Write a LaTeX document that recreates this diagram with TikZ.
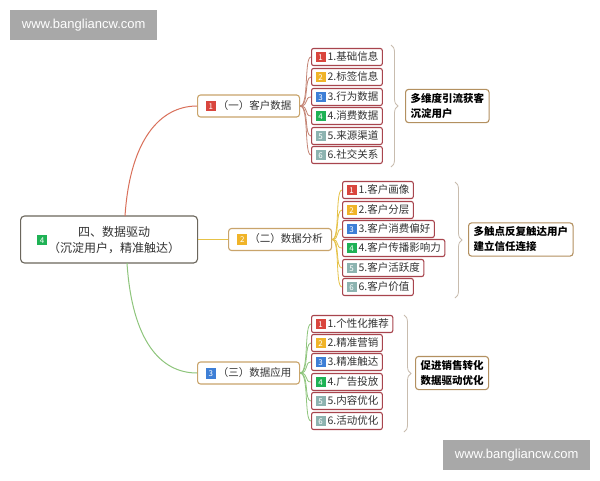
\documentclass[tikz,border=0pt]{standalone}
\usepackage{fontspec}
\setmainfont{Noto Sans CJK SC}
\newfontfamily\latinsans{Liberation Sans}
\usetikzlibrary{decorations.pathreplacing}
\definecolor{bdred}{HTML}{D9463E}
\definecolor{bdyel}{HTML}{F0B429}
\definecolor{bdblu}{HTML}{3E7FD6}
\definecolor{bdgrn}{HTML}{1FB255}
\definecolor{bdgry}{HTML}{8DB3B0}
\definecolor{leafc}{HTML}{A8454E}
\definecolor{brc}{HTML}{C9A46B}
\definecolor{sumc}{HTML}{B39060}
\definecolor{rootc}{HTML}{6B665C}
\definecolor{txtc}{HTML}{333333}
\definecolor{lnred}{HTML}{D9705A}
\definecolor{fanred}{HTML}{C48474}
\definecolor{lnyel}{HTML}{E6C247}
\definecolor{lngrn}{HTML}{8EC57C}
\definecolor{bracec}{HTML}{C8BCAE}
\definecolor{bannerc}{HTML}{A8A8A8}
\newcommand{\bdg}[2]{{\setlength{\fboxsep}{0pt}\colorbox{#1}{\rule[-2pt]{0pt}{10.5pt}\makebox[10pt][c]{\color{white}\fontsize{8}{8}\selectfont #2}}}\hspace{2pt}}
\begin{document}
\begin{tikzpicture}[x=1pt,y=-1pt,
  leaf/.style={draw=leafc, line width=1.1pt, rounded corners=2pt, fill=white, inner xsep=4pt, inner ysep=0pt, minimum height=17pt, anchor=west, text=txtc, font=\fontsize{10.5}{12}\selectfont},
  brnode/.style={draw=brc, line width=1.1pt, rounded corners=3pt, fill=white, minimum height=22pt, inner xsep=4pt, inner ysep=0pt, text=txtc, font=\fontsize{10.5}{12}\selectfont},
  sumnode/.style={draw=sumc, line width=1.1pt, rounded corners=3pt, fill=white, inner xsep=5pt, inner ysep=4pt, anchor=west, align=left, text=black, font=\bfseries\fontsize{10.5}{15}\selectfont},
  fan/.style={line width=0.8pt},
  bracedeco/.style={draw=bracec, line width=0.8pt, decorate, decoration={brace, amplitude=7pt}},
  banner/.style={fill=bannerc, text=white, minimum width=147pt, minimum height=30pt, inner sep=0pt, font=\latinsans\fontsize{13}{13}\selectfont}
]
\useasboundingbox (0,0) rectangle (600,480);
\fill[white] (0,0) rectangle (600,480);
% banners
\node[banner, anchor=north west] (ban1) at (10,10) {www.bangliancw.com};
\node[banner, anchor=north west] (ban2) at (443,440) {www.bangliancw.com};
% root
\node[draw=rootc, line width=1.1pt, rounded corners=4pt, fill=white, minimum width=177pt, minimum height=47pt, anchor=west] (root) at (20,239.5) {};
\node[inner sep=0pt] (rootbadge) at (42,240) {\bdg{bdgrn}{4}};
\node[align=center, inner sep=0pt, text=txtc, font=\fontsize{12}{16}\selectfont] (roottext) at (114,240) {四、数据驱动\\（沉淀用户，精准触达）};
% branches
\node[brnode, minimum width=102pt, anchor=west] (b1) at (197,106) {\bdg{bdred}{1}（一）客户数据};
\node[brnode, minimum width=103pt, anchor=west] (b2) at (228,239.5) {\bdg{bdyel}{2}（二）数据分析};
\node[brnode, minimum width=102pt, anchor=west] (b3) at (197,373) {\bdg{bdblu}{3}（三）数据应用};
% root connectors
\coordinate (rtop) at (125,216);
\coordinate (rbot) at (127,263);
\draw[lnred, line width=1pt] (rtop) .. controls (130,140) and (160,106) .. (b1.west);
\draw[lngrn, line width=1pt] (rbot) .. controls (132,340) and (160,373) .. (b3.west);
\draw[lnyel, line width=1pt] (root.east) -- (b2.west);
% leaves branch 1
\node[leaf] (l11) at (311,57) {\bdg{bdred}{1}1.基础信息};
\node[leaf] (l12) at (311,77) {\bdg{bdyel}{2}2.标签信息};
\node[leaf] (l13) at (311,97) {\bdg{bdblu}{3}3.行为数据};
\node[leaf] (l14) at (311,116) {\bdg{bdgrn}{4}4.消费数据};
\node[leaf] (l15) at (311,136) {\bdg{bdgry}{5}5.来源渠道};
\node[leaf] (l16) at (311,155) {\bdg{bdgry}{6}6.社交关系};
% leaves branch 2
\node[leaf] (l21) at (342,190) {\bdg{bdred}{1}1.客户画像};
\node[leaf] (l22) at (342,210) {\bdg{bdyel}{2}2.客户分层};
\node[leaf] (l23) at (342,229) {\bdg{bdblu}{3}3.客户消费偏好};
\node[leaf] (l24) at (342,248) {\bdg{bdgrn}{4}4.客户传播影响力};
\node[leaf] (l25) at (342,268) {\bdg{bdgry}{5}5.客户活跃度};
\node[leaf] (l26) at (342,287) {\bdg{bdgry}{6}6.客户价值};
% leaves branch 3
\node[leaf] (l31) at (311,324) {\bdg{bdred}{1}1.个性化推荐};
\node[leaf] (l32) at (311,343) {\bdg{bdyel}{2}2.精准营销};
\node[leaf] (l33) at (311,362) {\bdg{bdblu}{3}3.精准触达};
\node[leaf] (l34) at (311,382) {\bdg{bdgrn}{4}4.广告投放};
\node[leaf] (l35) at (311,401) {\bdg{bdgry}{5}5.内容优化};
\node[leaf] (l36) at (311,421) {\bdg{bdgry}{6}6.活动优化};
% fans
\foreach \l in {l11,l12,l13,l14,l15,l16}
  \draw[fan, fanred] (b1.east) .. controls +(9,0) and +(-7,0) .. (\l.west);
\foreach \l in {l21,l22,l23,l24,l25,l26}
  \draw[fan, lnyel] (b2.east) .. controls +(8,0) and +(-7,0) .. (\l.west);
\foreach \l in {l31,l32,l33,l34,l35,l36}
  \draw[fan, lngrn] (b3.east) .. controls +(9,0) and +(-7,0) .. (\l.west);
% summaries
\node[sumnode] (s1) at (405,106) {多维度引流获客\\沉淀用户};
\node[sumnode] (s2) at (468,239.5) {多触点反复触达用户\\建立信任连接};
\node[sumnode] (s3) at (415,373) {促进销售转化\\数据驱动优化};
% braces
\coordinate (br1a) at (391,45);
\coordinate (br1b) at (391,167);
\coordinate (br2a) at (455,182);
\coordinate (br2b) at (455,298);
\coordinate (br3a) at (404,315);
\coordinate (br3b) at (404,432);
\draw[bracedeco] (br1a) -- (br1b);
\draw[bracedeco] (br2a) -- (br2b);
\draw[bracedeco] (br3a) -- (br3b);
\end{tikzpicture}
\end{document}
